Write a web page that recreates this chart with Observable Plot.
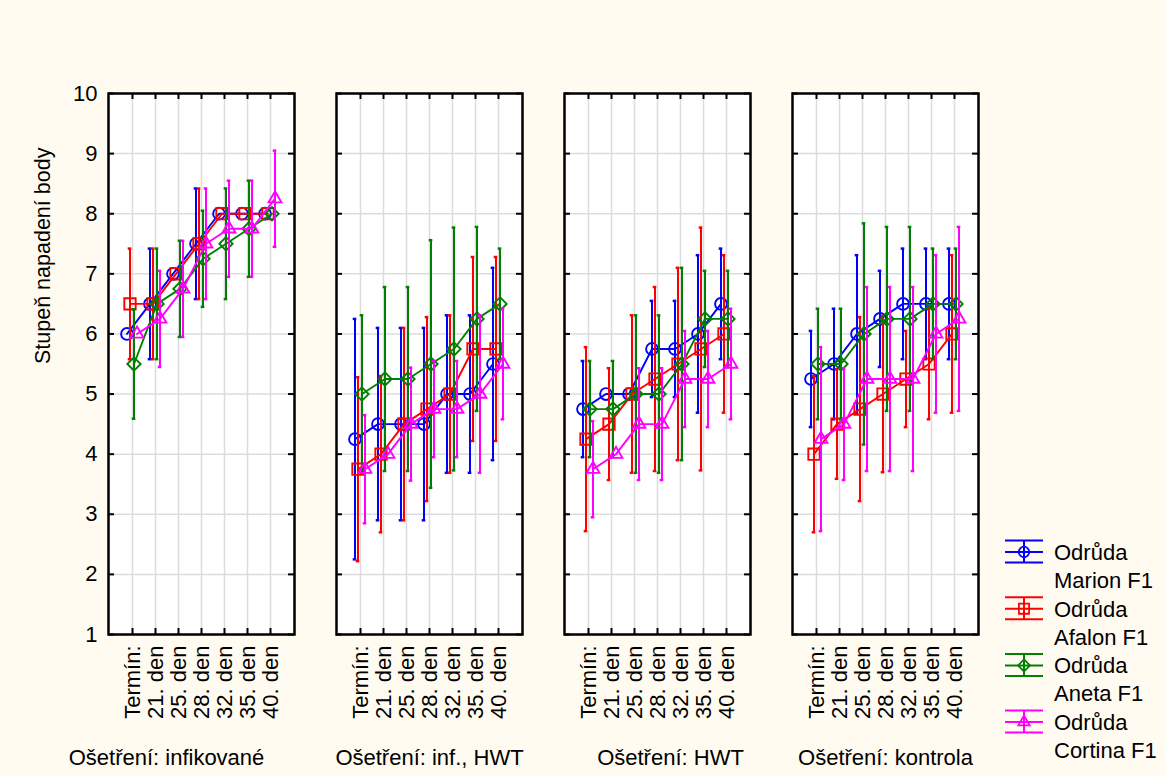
<!DOCTYPE html>
<html>
<head>
<meta charset="utf-8">
<script src="https://cdn.jsdelivr.net/npm/d3@7"></script>
<script src="https://cdn.jsdelivr.net/npm/@observablehq/plot@0.6"></script>
<style>
  html, body { margin: 0; padding: 0; background: #fffbf0; }
  #wrap { position: relative; width: 1166px; height: 776px; font-family: "Liberation Sans", Arial, sans-serif; }
  #wrap svg.legend { position: absolute; left: 0; top: 0; }
</style>
</head>
<body>
<div id="wrap"></div>
<script>
// ---- data ----
const treatments = ["infikované", "inf., HWT", "HWT", "kontrola"];
const terms = ["Termín:", "21. den", "25. den", "28. den", "32. den", "35. den", "40. den"];
const varieties = ["Marion F1", "Afalon F1", "Aneta F1", "Cortina F1"];
const yTicks = [1, 2, 3, 4, 5, 6, 7, 8, 9, 10];
const yLabel = "Stupeň napadení body";
const facetPrefix = "Ošetření: ";
const legendTitle = "Odrůda";

// means: 4 treatments x 7 terms each
const marionMean = [
  6.0, 6.5, 7.0, 7.5, 8.0, 8.0, 8.0,
  4.25, 4.5, 4.5, 4.5, 5.0, 5.0, 5.5,
  4.75, 5.0, 5.0, 5.75, 5.75, 6.0, 6.5,
  5.25, 5.5, 6.0, 6.25, 6.5, 6.5, 6.5];
const marionErr = [
  0, 0.92, 0, 0.92, 0, 0, 0,
  2.0, 1.6, 1.6, 1.6, 1.31, 1.31, 1.6,
  0.8, 0, 0, 0.8, 0.8, 1.31, 0.92,
  0.8, 0.92, 1.31, 0.8, 0.92, 0.92, 0.92];
const afalonMean = [
  6.5, 6.5, 7.0, 7.5, 8.0, 8.0, 8.0,
  3.75, 4.0, 4.5, 4.75, 5.0, 5.75, 5.75,
  4.25, 4.5, 5.0, 5.25, 5.5, 5.75, 6.0,
  4.0, 4.5, 4.75, 5.0, 5.25, 5.5, 6.0];
const afalonErr = [
  0.92, 0.92, 0, 0.92, 0, 0, 0,
  1.53, 1.3, 1.6, 1.53, 1.31, 1.53, 1.53,
  1.53, 0.93, 1.31, 1.53, 1.6, 2.02, 1.31,
  1.3, 0.91, 1.53, 1.3, 0.8, 0.92, 1.31];
const anetaMean = [
  5.5, 6.5, 6.75, 7.25, 7.5, 7.75, 8.0,
  5.0, 5.25, 5.25, 5.5, 5.75, 6.25, 6.5,
  4.75, 4.75, 5.0, 5.0, 5.5, 6.25, 6.25,
  5.5, 5.5, 6.0, 6.25, 6.25, 6.5, 6.5];
const anetaErr = [
  0.91, 0.92, 0.8, 0.8, 0.92, 0.8, 0,
  1.31, 1.53, 1.53, 2.06, 2.02, 1.53, 0.92,
  0.8, 0.8, 1.31, 1.31, 1.6, 0.8, 0.8,
  0.92, 0.92, 1.84, 1.53, 1.53, 0.92, 0.92];
const cortinaMean = [
  6.0, 6.25, 6.75, 7.5, 7.75, 7.75, 8.25,
  3.75, 4.0, 4.5, 4.75, 4.75, 5.0, 5.5,
  3.75, 4.0, 4.5, 4.5, 5.25, 5.25, 5.5,
  4.25, 4.5, 5.25, 5.25, 5.25, 6.0, 6.25];
const cortinaErr = [
  0, 0.8, 0.8, 0.92, 0.8, 0.8, 0.8,
  0.9, 0, 0.94, 0.8, 0.8, 1.31, 0.92,
  0.8, 0, 0.93, 0.93, 0.8, 0.8, 0.92,
  1.53, 0.93, 1.53, 1.53, 1.53, 1.31, 1.53];

// ---- styles ----
const colors = ["#0000ff", "#ff0000", "#008000", "#ff00ff"];
const symbols = ["circle", "square", "diamond2", "triangle2"];
const symbolR = [5.9, 6.4, 6.0, 6.1];
const offsets = [-5.5, -2.5, 1.5, 4.5];
const labelShift = [-35, 0, 13, 0];
const font = "'Liberation Sans', Arial, sans-serif";
const fs = 22;

const means = [marionMean, afalonMean, anetaMean, cortinaMean];
const errs = [marionErr, afalonErr, anetaErr, cortinaErr];

const rows = [];
varieties.forEach((v, vi) => {
  treatments.forEach((t, ti) => {
    terms.forEach((term, k) => {
      const i = ti * terms.length + k;
      rows.push({variety: v, treatment: t, term, mean: means[vi][i], err: errs[vi][i]});
    });
  });
});

const grid = "#dcdcdc";
const marks = [
  Plot.frame({fill: "white", stroke: "none"}),
  Plot.ruleY(yTicks.slice(1, -1), {stroke: grid, strokeWidth: 1.5}),
  Plot.ruleX(terms, {x: d => d, stroke: grid, strokeWidth: 1.5}),
];

varieties.forEach((v, vi) => {
  const data = rows.filter(d => d.variety === v);
  const withErr = data.filter(d => d.err > 0);
  const c = colors[vi], dx = offsets[vi];
  marks.push(
    Plot.ruleX(withErr, {fx: "treatment", x: "term", y1: d => d.mean - d.err, y2: d => d.mean + d.err, stroke: c, strokeWidth: 2, dx}),
    Plot.ruleY(withErr, {fx: "treatment", x1: "term", x2: "term", y: d => d.mean - d.err, stroke: c, strokeWidth: 2.5, insetLeft: -1.8, insetRight: -1.8, dx}),
    Plot.ruleY(withErr, {fx: "treatment", x1: "term", x2: "term", y: d => d.mean + d.err, stroke: c, strokeWidth: 2.5, insetLeft: -1.8, insetRight: -1.8, dx}),
    Plot.line(data, {fx: "treatment", x: "term", y: "mean", stroke: c, strokeWidth: 1.9, dx}),
    Plot.dot(data, {fx: "treatment", x: "term", y: "mean", stroke: c, fill: "none", strokeWidth: 1.9, symbol: () => symbols[vi], r: symbolR[vi], dx})
  );
});

marks.push(
  // inward ticks on all four sides
  Plot.ruleY(yTicks, {y: d => d, insetRight: 180, stroke: "black", strokeWidth: 2}),
  Plot.ruleY(yTicks, {y: d => d, insetLeft: 180, stroke: "black", strokeWidth: 2}),
  Plot.ruleX(terms, {x: d => d, insetBottom: 535, stroke: "black", strokeWidth: 2}),
  Plot.ruleX(terms, {x: d => d, insetTop: 535, stroke: "black", strokeWidth: 2}),
  Plot.frame({stroke: "black", strokeWidth: 2.5}),
  Plot.axisY({ticks: yTicks, anchor: "left", tickSize: 0, tickPadding: 11, label: null, fontSize: fs, tickFormat: d => String(d)}),
  Plot.axisX({anchor: "bottom", tickSize: 0, tickRotate: -90, tickPadding: 11, label: null, fontSize: fs}),
  Plot.text([yLabel], {fx: () => treatments[0], text: d => d, frameAnchor: "left", rotate: -90, dx: -65, fontSize: 21.5}),
  ...treatments.map((t, i) => Plot.text([t], {fx: d => d, text: d => facetPrefix + d, frameAnchor: "bottom", dy: 130, dx: labelShift[i], fontSize: fs}))
);

const chart = Plot.plot({
  width: 1166,
  height: 776,
  marginLeft: 107,
  marginRight: 188,
  marginTop: 93,
  marginBottom: 142,
  style: {background: "transparent", fontFamily: font, fontSize: fs + "px", color: "black"},
  fx: {domain: treatments, paddingInner: 0.185, paddingOuter: 0, axis: null},
  x: {type: "point", domain: terms, padding: 1},
  y: {domain: [1, 10]},
  marks
});
document.getElementById("wrap").appendChild(chart);

// ---- legend ----
const lg = d3.select("#wrap").append("svg").attr("class", "legend")
  .attr("width", 1166).attr("height", 776)
  .style("font-family", font).style("font-size", fs + "px");
const symMap = {circle: d3.symbolCircle, square: d3.symbolSquare, diamond2: d3.symbolDiamond2, triangle2: d3.symbolTriangle2};
varieties.forEach((v, i) => {
  const cy = 552 + 56.7 * i, x0 = 1005, x1 = 1043, cx = 1024;
  const g = lg.append("g").attr("stroke", colors[i]).attr("stroke-width", 2).attr("fill", "none");
  [cy - 11.5, cy, cy + 10.5].forEach(y => g.append("line").attr("x1", x0).attr("x2", x1).attr("y1", y).attr("y2", y));
  g.append("line").attr("x1", cx).attr("x2", cx).attr("y1", cy - 11.5).attr("y2", cy + 10.5);
  g.append("path").attr("transform", `translate(${cx},${cy})`).attr("stroke-width", 1.8)
    .attr("d", d3.symbol(symMap[symbols[i]], Math.PI * symbolR[i] * symbolR[i] * 0.8)());
  lg.append("text").attr("x", 1054).attr("y", cy + 8).attr("fill", "black").text(legendTitle);
  lg.append("text").attr("x", 1054).attr("y", cy + 36).attr("fill", "black").text(v);
});
</script>
</body>
</html>
